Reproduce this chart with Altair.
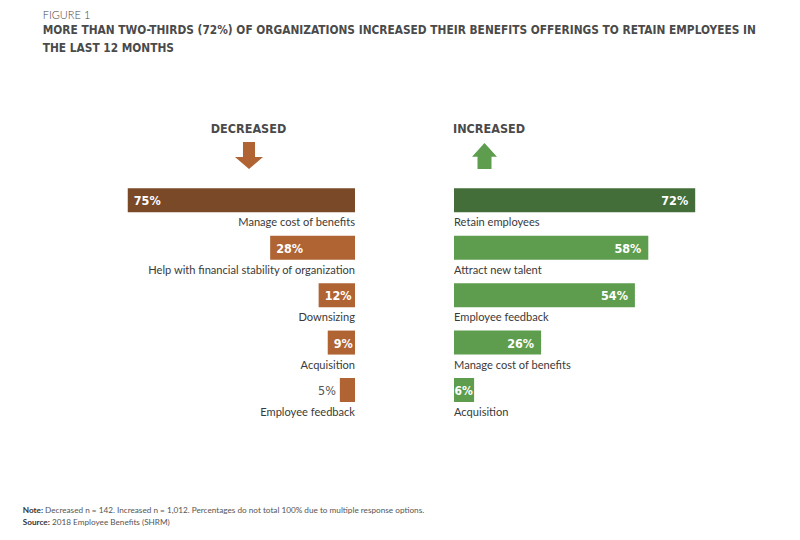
import altair as alt
import pandas as pd

# ---------------- data ----------------
dec_categories = [
    "Manage cost of benefits",
    "Help with financial stability of organization",
    "Downsizing",
    "Acquisition",
    "Employee feedback",
]
dec_values = [75, 28, 12, 9, 5]

inc_categories = [
    "Retain employees",
    "Attract new talent",
    "Employee feedback",
    "Manage cost of benefits",
    "Acquisition",
]
inc_values = [72, 58, 54, 26, 6]

figure_label = "FIGURE 1"
title_lines = [
    "MORE THAN TWO-THIRDS (72%) OF ORGANIZATIONS INCREASED THEIR BENEFITS OFFERINGS TO RETAIN EMPLOYEES IN",
    "THE LAST 12 MONTHS",
]
headers = ["DECREASED", "INCREASED"]
note_head = "Note:"
note_text = "Decreased n = 142. Increased n = 1,012. Percentages do not total 100% due to multiple response options."
source_head = "Source:"
source_text = "2018 Employee Benefits (SHRM)"

# ---------------- styles ----------------
NARROW = "Liberation Sans Narrow, Arial Narrow, DejaVu Sans Condensed, sans-serif"
LABEL_FONT = "Lato, Open Sans, sans-serif"
DARK_BROWN = "#7A4A28"
LIGHT_BROWN = "#B06434"
DARK_GREEN = "#436E39"
LIGHT_GREEN = "#5E9D4E"
TEXT_DARK = "#3a3a3a"
TITLE_COLOR = "#4a4a4a"
LABEL_SIZE = 11.1
PCT_SIZE = 12.5


def frame(cats, vals):
    df = pd.DataFrame({"row": list(range(len(cats))), "category": cats, "value": vals})
    df["label"] = df["value"].astype(str) + "%"
    df["zero"] = 0
    return df


dec_df = frame(dec_categories, dec_values)
inc_df = frame(inc_categories, inc_values)
one = pd.DataFrame({"k": [0]})

y_enc = alt.Y(
    "row:O",
    scale=alt.Scale(range=[168.6, 405.7], paddingInner=0, paddingOuter=0),
    axis=None,
)
xl = alt.Scale(domain=[0, 100], range=[347, 44])
xr = alt.Scale(domain=[0, 100], range=[446, 781])

# ---------------- left (decreased) ----------------
lb = alt.Chart(dec_df)
bars_l = lb.mark_bar(height=24).encode(
    x=alt.X("value:Q", scale=xl, axis=None),
    y=y_enc,
    color=alt.condition("datum.row == 0", alt.value(DARK_BROWN), alt.value(LIGHT_BROWN)),
)
cat_l = lb.mark_text(
    align="right", baseline="alphabetic", dy=26, font=LABEL_FONT, fontSize=LABEL_SIZE, color=TEXT_DARK
).encode(x=alt.X("zero:Q", scale=xl, axis=None), y=y_enc, text="category:N")
pct_l_in = lb.transform_filter("datum.value >= 8").mark_text(
    align="left", baseline="alphabetic", dx=6, dy=5, font=NARROW, fontWeight="bold",
    fontSize=PCT_SIZE, color="white",
).encode(x=alt.X("value:Q", scale=xl, axis=None), y=y_enc, text="label:N")
pct_l_out = lb.transform_filter("datum.value < 8").mark_text(
    align="right", baseline="alphabetic", dx=-4, dy=5, font=NARROW,
    fontSize=PCT_SIZE, color="#555555",
).encode(x=alt.X("value:Q", scale=xl, axis=None), y=y_enc, text="label:N")
left = alt.layer(bars_l, cat_l, pct_l_in, pct_l_out)

# ---------------- right (increased) ----------------
rb = alt.Chart(inc_df)
bars_r = rb.mark_bar(height=24).encode(
    x=alt.X("value:Q", scale=xr, axis=None),
    y=y_enc,
    color=alt.condition("datum.row == 0", alt.value(DARK_GREEN), alt.value(LIGHT_GREEN)),
)
cat_r = rb.mark_text(
    align="left", baseline="alphabetic", dy=26, font=LABEL_FONT, fontSize=LABEL_SIZE, color=TEXT_DARK
).encode(x=alt.X("zero:Q", scale=xr, axis=None), y=y_enc, text="category:N")
pct_r_in = rb.transform_filter("datum.value >= 10").mark_text(
    align="right", baseline="alphabetic", dx=-7, dy=5, font=NARROW, fontWeight="bold",
    fontSize=PCT_SIZE, color="white",
).encode(x=alt.X("value:Q", scale=xr, axis=None), y=y_enc, text="label:N")
pct_r_small = rb.transform_filter("datum.value < 10").mark_text(
    align="left", baseline="alphabetic", dx=0.5, dy=5, font=NARROW, fontWeight="bold",
    fontSize=12, color="white",
).encode(x=alt.X("zero:Q", scale=xr, axis=None), y=y_enc, text="label:N")
right = alt.layer(bars_r, cat_r, pct_r_in, pct_r_small)

bars_all = alt.layer(left, right).resolve_scale(x="independent")


# ---------------- annotations ----------------
def txt(text, x, y, **kw):
    return alt.Chart(one).mark_text(baseline="alphabetic", **kw).encode(
        x=alt.value(x), y=alt.value(y), text=alt.value(text)
    )


ann = [
    txt(figure_label, 34.7, 11, align="left", font=LABEL_FONT, fontWeight=300, fontSize=11, color="#444444"),
    txt(title_lines[0], 34.7, 25.5, align="left", font=NARROW, fontWeight="bold", fontSize=11.8, color=TITLE_COLOR),
    txt(title_lines[1], 34.7, 44, align="left", font=NARROW, fontWeight="bold", fontSize=11.8, color=TITLE_COLOR),
    txt(headers[0], 240.5, 124.5, align="center", font=NARROW, fontWeight="bold", fontSize=12.5, color=TITLE_COLOR),
    txt(headers[1], 445, 124.5, align="left", font=NARROW, fontWeight="bold", fontSize=12.5, color=TITLE_COLOR),
    txt(note_head, 14.7, 505, align="left", font=LABEL_FONT, fontWeight="bold", fontSize=8.2, color="#333333"),
    txt(note_text, 37, 505, align="left", font=LABEL_FONT, fontSize=8.2, color="#555555"),
    txt(source_head, 14.7, 516.5, align="left", font=LABEL_FONT, fontWeight="bold", fontSize=8.2, color="#333333"),
    txt(source_text, 44, 516.5, align="left", font=LABEL_FONT, fontSize=8.2, color="#555555"),
]

DOWN = "M-0.43,-0.96 L0.43,-0.96 L0.43,0.1 L1,0.1 L0,0.96 L-1,0.1 L-0.43,0.1 Z"
UP = "M0,-0.93 L0.89,0.05 L0.5,0.05 L0.5,0.93 L-0.5,0.93 L-0.5,0.05 L-0.89,0.05 Z"
arrow_down = alt.Chart(one).mark_point(
    shape=DOWN, size=784, filled=True, fill=LIGHT_BROWN, strokeWidth=0, opacity=1
).encode(x=alt.value(241), y=alt.value(147.5))
arrow_up = alt.Chart(one).mark_point(
    shape=UP, size=784, filled=True, fill=LIGHT_GREEN, strokeWidth=0, opacity=1
).encode(x=alt.value(476.5), y=alt.value(148))

chart = (
    alt.layer(bars_all, arrow_down, arrow_up, *ann)
    .properties(
        width=784,
        height=524,
        autosize=alt.AutoSizeParams(type="none"),
        padding=0,
        background="white",
    )
    .configure_view(stroke=None)
)

chart.save("out.html", embed_options={"renderer": "svg", "actions": False})
